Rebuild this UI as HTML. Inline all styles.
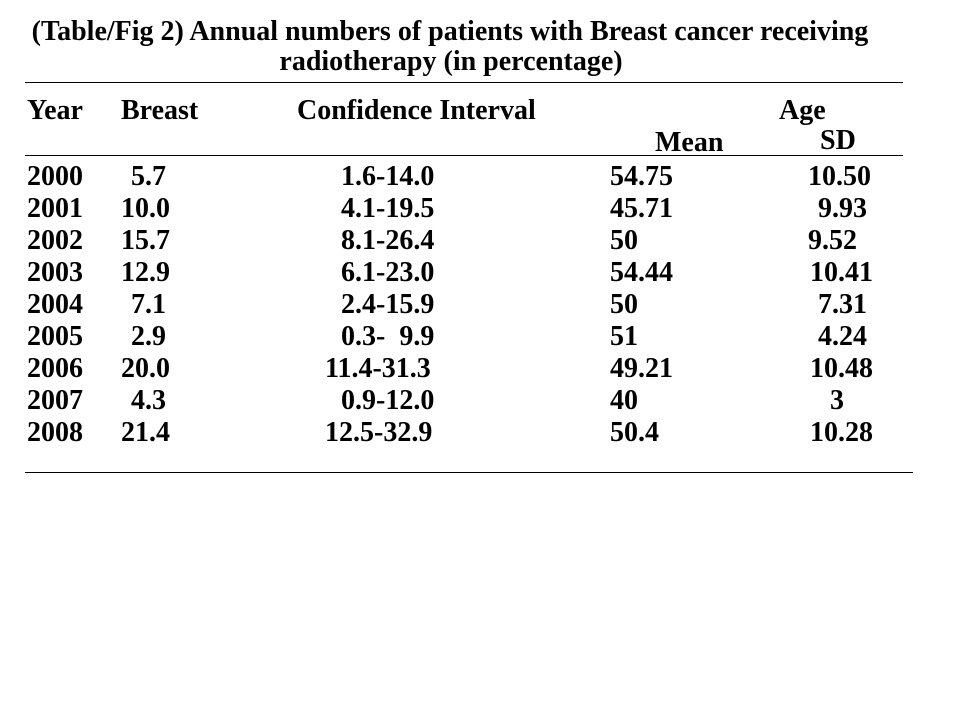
<!DOCTYPE html>
<html><head><meta charset="utf-8"><style>
body{margin:0;background:#fff;width:961px;height:724px;overflow:hidden;position:relative;font-family:"Liberation Serif",serif;font-weight:bold;font-size:28px;color:#000}
.t{position:absolute;white-space:pre;line-height:1}
.l{position:absolute;height:1px;background:#000}
</style></head><body>
<div class="t" style="left:0;width:900px;text-align:center;top:18px">(Table/Fig 2) Annual numbers of patients with Breast cancer receiving</div>
<div class="t" style="left:0;width:902px;text-align:center;top:48px">radiotherapy (in percentage)</div>
<div class="l" style="left:25px;width:878px;top:82px"></div>
<div class="t" style="left:27px;top:97px">Year</div>
<div class="t" style="left:121px;top:97px">Breast</div>
<div class="t" style="left:297px;top:97px">Confidence Interval</div>
<div class="t" style="left:779px;top:97px">Age</div>
<div class="t" style="left:655px;top:129px">Mean</div>
<div class="t" style="left:820px;top:127px">SD</div>
<div class="l" style="left:25px;width:878px;top:155px"></div>
<div class="l" style="left:25px;width:888px;top:472px"></div>
<div id="rows"></div>
<script>
var d=[["2000","5.7",131,"1.6-14.0",341,"54.75","10.50",808],
["2001","10.0",121,"4.1-19.5",341,"45.71","9.93",818],
["2002","15.7",121,"8.1-26.4",341,"50","9.52",808],
["2003","12.9",121,"6.1-23.0",341,"54.44","10.41",810],
["2004","7.1",131,"2.4-15.9",341,"50","7.31",818],
["2005","2.9",131,"0.3-  9.9",341,"51","4.24",818],
["2006","20.0",121,"11.4-31.3",325,"49.21","10.48",810],
["2007","4.3",131,"0.9-12.0",341,"40","3",830],
["2008","21.4",121,"12.5-32.9",325,"50.4","10.28",810]];
var h="";
d.forEach(function(r,i){var y=163+i*32;
h+='<div class="t" style="left:27px;top:'+y+'px">'+r[0]+'</div>';
h+='<div class="t" style="left:'+r[2]+'px;top:'+y+'px">'+r[1]+'</div>';
h+='<div class="t" style="left:'+r[4]+'px;top:'+y+'px">'+r[3]+'</div>';
h+='<div class="t" style="left:610px;top:'+y+'px">'+r[5]+'</div>';
h+='<div class="t" style="left:'+r[7]+'px;top:'+y+'px">'+r[6]+'</div>';});
document.getElementById("rows").innerHTML=h;
</script>
</body></html>
